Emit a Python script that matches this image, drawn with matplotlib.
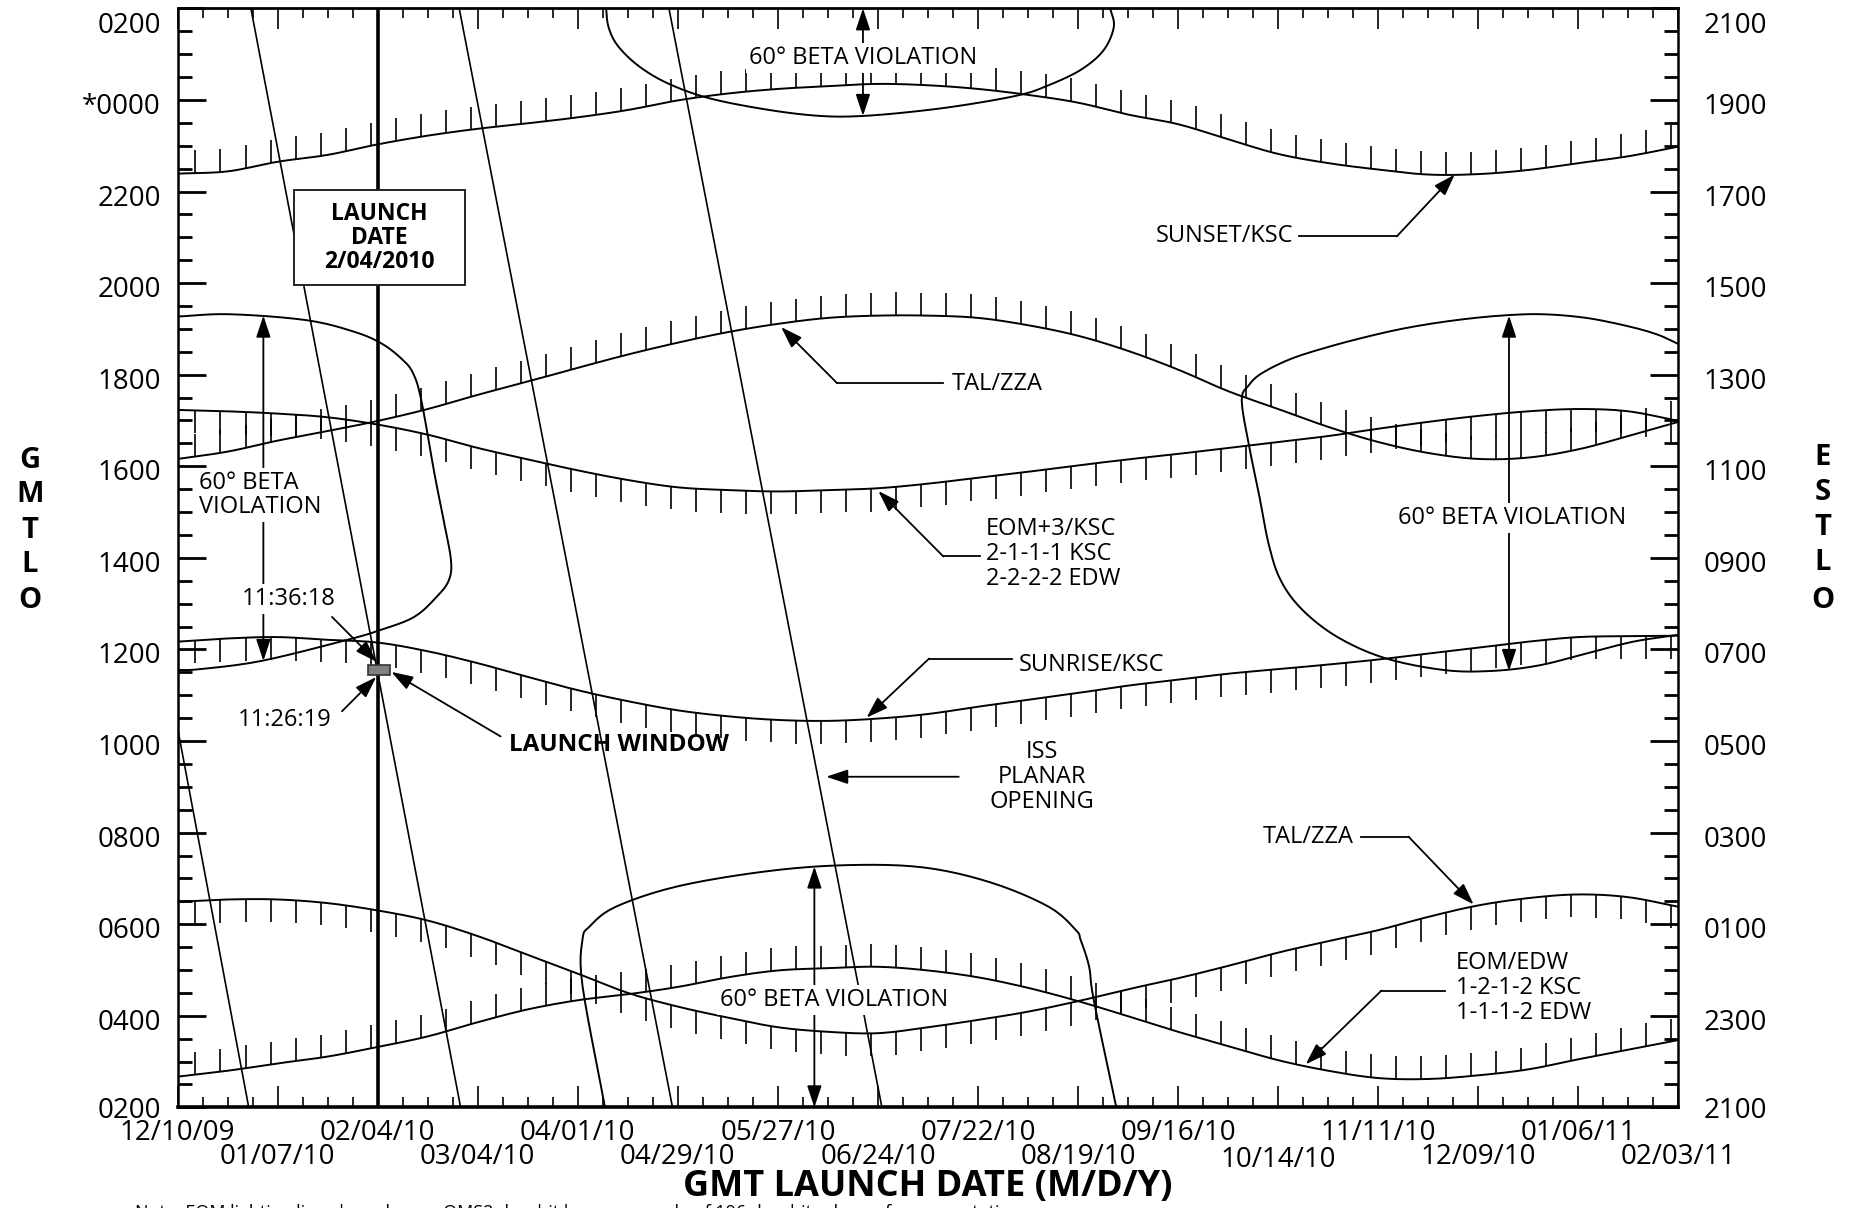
import matplotlib
matplotlib.use('Agg')
import matplotlib.pyplot as plt
from matplotlib.patches import Rectangle
from matplotlib.transforms import ScaledTranslation
import numpy as np

plt.rcParams['font.family'] = ['Open Sans', 'DejaVu Sans']

# x = days after 12/10/09, y = GMT hour (02:00 at the bottom to 02:00 next day at the top)
days = np.arange(0, 421, 14)

sunset_ksc = [22.39, 22.44, 22.65, 22.80, 23.03, 23.22, 23.37, 23.49, 23.62, 23.78, 23.99,
              24.14, 24.24, 24.30, 24.35, 24.32, 24.24, 24.11, 23.94, 23.68, 23.47, 23.14,
              22.82, 22.62, 22.48, 22.37, 22.38, 22.47, 22.62, 22.77, 22.98]
tal_zza_upper = [16.16, 16.32, 16.56, 16.77, 16.99, 17.25, 17.56, 17.85, 18.15, 18.44, 18.70,
                 18.93, 19.11, 19.24, 19.29, 19.29, 19.24, 19.08, 18.85, 18.52, 18.11, 17.64,
                 17.25, 16.86, 16.53, 16.29, 16.16, 16.19, 16.37, 16.66, 16.97]
eom3_ksc = [17.23, 17.20, 17.15, 17.07, 16.91, 16.69, 16.40, 16.15, 15.91, 15.70, 15.54,
            15.48, 15.45, 15.48, 15.52, 15.62, 15.75, 15.88, 16.02, 16.15, 16.27, 16.40,
            16.53, 16.66, 16.82, 16.97, 17.10, 17.20, 17.25, 17.20, 16.99]
sunrise_ksc = [12.17, 12.24, 12.27, 12.21, 12.15, 11.96, 11.70, 11.40, 11.11, 10.87, 10.67,
               10.54, 10.46, 10.44, 10.49, 10.59, 10.75, 10.90, 11.05, 11.21, 11.34, 11.47,
               11.57, 11.67, 11.78, 11.91, 12.04, 12.17, 12.27, 12.29, 12.30]
tal_zza_lower = [6.49, 6.54, 6.54, 6.46, 6.30, 6.08, 5.74, 5.33, 4.92, 4.50, 4.20,
                 3.96, 3.75, 3.65, 3.62, 3.75, 3.91, 4.09, 4.32, 4.58, 4.82, 5.09,
                 5.38, 5.63, 5.87, 6.16, 6.41, 6.57, 6.65, 6.59, 6.38]
eom_edw = [2.67, 2.80, 2.96, 3.11, 3.32, 3.55, 3.86, 4.14, 4.34, 4.47, 4.63,
           4.84, 4.99, 5.04, 5.07, 4.99, 4.84, 4.61, 4.32, 3.99, 3.65, 3.34,
           3.03, 2.80, 2.64, 2.62, 2.70, 2.83, 3.05, 3.26, 3.47]

# 60 deg beta violation boundaries
beta_top_day = [119.9, 120.6, 123.2, 129.2, 137.5, 149.1, 165.6, 179.9, 191.8, 207.7, 221.9,
                235.8, 243.1, 252.4, 259.0, 262.0, 261.0]
beta_top_gmt = [26.0, 25.59, 25.18, 24.73, 24.35, 24.03, 23.78, 23.65, 23.65, 23.76, 23.91,
                24.11, 24.30, 24.64, 25.07, 25.59, 26.0]
beta_left_day = [0, 14.6, 36.1, 49.7, 57.3, 62.9, 65.9, 68.2, 71.9, 74.5, 76.5, 75.9, 72.5,
                 66.2, 56.6, 47.0, 23.5, 6.3, 0]
beta_left_gmt = [19.27, 19.32, 19.19, 18.93, 18.67, 18.33, 18.03, 17.44, 15.83, 14.80, 13.95,
                 13.51, 13.15, 12.71, 12.42, 12.20, 11.75, 11.57, 11.55]
beta_right_day = [420, 414.0, 405.8, 394.2, 381.9, 370.3, 357.7, 344.5, 332.9, 321.3, 311.4,
                  303.4, 299.8, 297.8, 300.1, 302.8, 305.4, 308.7, 314.7, 324.6, 337.9,
                  354.4, 367.7, 380.9, 394.2, 407.4, 420]
beta_right_gmt = [18.67, 18.88, 19.06, 19.24, 19.32, 19.29, 19.19, 19.03, 18.83, 18.59, 18.34,
                  18.03, 17.77, 17.43, 16.35, 15.32, 14.28, 13.51, 12.87, 12.27, 11.81,
                  11.55, 11.53, 11.65, 11.91, 12.17, 12.32]
beta_bottom_day = [119.6, 113.3, 113.3, 115.3, 122.6, 140.1, 165.3, 187.5, 208.7, 227.6,
                   243.8, 251.4, 252.7, 255.1, 256.4, 262.7]
beta_bottom_gmt = [2.0, 4.66, 5.66, 5.95, 6.38, 6.83, 7.16, 7.29, 7.24, 6.91,
                   6.38, 5.87, 5.66, 5.07, 4.34, 2.0]

# ISS planar opening lines
iss_start_day = [0, 20.5, 78.8, 137.5]
iss_start_gmt = [10.28, 26.0, 26.0, 26.0]
iss_end_day = [19.9, 79.2, 138.5, 197.1]
iss_end_gmt = [2.0, 2.0, 2.0, 2.0]

launch_day = 56
window_day = [53.3, 59.3]
window_gmt = [11.45, 11.65]

date_ticks = np.arange(0, 421, 28)
date_labels = ['12/10/09', '01/07/10', '02/04/10', '03/04/10', '04/01/10', '04/29/10',
               '05/27/10', '06/24/10', '07/22/10', '08/19/10', '09/16/10', '10/14/10',
               '11/11/10', '12/09/10', '01/06/11', '02/03/11']
hour_ticks = np.arange(2, 27, 2)
gmt_labels = ['0200', '0400', '0600', '0800', '1000', '1200', '1400', '1600', '1800',
              '2000', '2200', '*0000', '0200']
est_labels = ['2100', '2300', '0100', '0300', '0500', '0700', '0900', '1100', '1300',
              '1500', '1700', '1900', '2100']


def smooth(x, y, n=10):
    # catmull-rom through the read points
    pts = np.column_stack([x, y]).astype(float)
    pts = np.vstack([2 * pts[0] - pts[1], pts, 2 * pts[-1] - pts[-2]])
    t = np.linspace(0, 1, n, endpoint=False)[:, None, None]
    p0, p1, p2, p3 = pts[:-3], pts[1:-2], pts[2:-1], pts[3:]
    seg = 0.5 * (2 * p1 + (p2 - p0) * t + (2 * p0 - 5 * p1 + 4 * p2 - p3) * t ** 2
                 + (3 * p1 - p0 - 3 * p2 + p3) * t ** 3)
    out = np.vstack([seg.transpose(1, 0, 2).reshape(-1, 2), pts[-2]])
    return out[:, 0], out[:, 1]


fig = plt.figure(figsize=(18.56, 12.08), dpi=100)
ax = fig.add_axes([0.0957, 0.0833, 0.8086, 0.9098])
ax.set_xlim(0, 420)
ax.set_ylim(2, 26)

LW = 1.4
hatch_days = np.arange(5, 420, 7)
for vals, sign in [(sunset_ksc, 1), (tal_zza_upper, 1), (eom3_ksc, -1),
                   (sunrise_ksc, -1), (tal_zza_lower, -1), (eom_edw, 1)]:
    sx, sy = smooth(days, vals)
    ax.plot(sx, sy, color='black', lw=LW)
    base = np.interp(hatch_days, sx, sy)
    ax.vlines(hatch_days, base, base + sign * 0.5, color='black', lw=1.2)

for bx, by in [(beta_top_day, beta_top_gmt), (beta_left_day, beta_left_gmt),
               (beta_right_day, beta_right_gmt), (beta_bottom_day, beta_bottom_gmt)]:
    sx, sy = smooth(bx, by, 6)
    ax.plot(sx, sy, color='black', lw=LW)

for x0, y0, x1, y1 in zip(iss_start_day, iss_start_gmt, iss_end_day, iss_end_gmt):
    ax.plot([x0, x1], [y0, y1], color='black', lw=1.2)

# launch date line and box
ax.axvline(launch_day, color='black', lw=2.6, zorder=3)
ax.add_patch(Rectangle((32.5, 19.96), 48, 2.07, facecolor='white', edgecolor='#222222',
                       lw=1.4, zorder=5))
ax.text(56.5, 20.99, 'LAUNCH\nDATE\n2/04/2010', ha='center', va='center', fontsize=16.5,
        fontweight='bold', linespacing=1.0, zorder=6)
ax.add_patch(Rectangle((window_day[0], window_gmt[0]), window_day[1] - window_day[0],
                       window_gmt[1] - window_gmt[0], facecolor='#808080',
                       edgecolor='#333333', lw=1.2, zorder=7))

AP = dict(arrowstyle='-|>,head_length=0.6,head_width=0.2', color='black', lw=1.3,
          mutation_scale=22, shrinkA=0, shrinkB=0)
AP2 = dict(AP, arrowstyle='<|-|>,head_length=0.6,head_width=0.2')
WB = dict(facecolor='white', edgecolor='none', pad=2)
FS = 17


def leader(pts, tip):
    xs, ys = zip(*pts)
    ax.plot(xs, ys, color='black', lw=1.3)
    ax.annotate('', xy=tip, xytext=pts[-1], arrowprops=AP)


# beta violation double arrows
ax.annotate('', xy=(191.8, 26.0), xytext=(191.8, 23.65), arrowprops=AP2, zorder=4)
ax.text(191.8, 24.91, '60° BETA VIOLATION', ha='center', va='center', fontsize=FS, bbox=WB, zorder=5)
ax.annotate('', xy=(24.0, 19.29), xytext=(24.0, 11.75), arrowprops=AP2, zorder=4)
ax.text(6.0, 15.37, '60° BETA\nVIOLATION', ha='left', va='center', fontsize=FS,
        linespacing=1.0, bbox=WB, zorder=5)
ax.annotate('', xy=(372.6, 19.29), xytext=(372.6, 11.53), arrowprops=AP2, zorder=4)
ax.text(373.4, 14.87, '60° BETA VIOLATION', ha='center', va='center', fontsize=FS, bbox=WB, zorder=5)
ax.annotate('', xy=(178.2, 7.26), xytext=(178.2, 2.0), arrowprops=AP2, zorder=4)
ax.text(183.8, 4.34, '60° BETA VIOLATION', ha='center', va='center', fontsize=FS, bbox=WB, zorder=5)

# curve labels
ax.text(293, 21.02, 'SUNSET/KSC', ha='center', va='center', fontsize=FS)
leader([(313.7, 21.02), (341.2, 21.02)], (357.4, 22.37))
ax.text(229.5, 17.79, 'TAL/ZZA', ha='center', va='center', fontsize=FS)
leader([(214.3, 17.82), (184.5, 17.82)], (168.9, 19.04))
ax.text(226.2, 14.08, 'EOM+3/KSC\n2-1-1-1 KSC\n2-2-2-2 EDW', ha='left', va='center',
        fontsize=FS, linespacing=1.05)
leader([(224.5, 14.03), (214.3, 14.03)], (196.1, 15.46))
ax.text(255.7, 11.67, 'SUNRISE/KSC', ha='center', va='center', fontsize=FS)
leader([(233.5, 11.80), (210.3, 11.80)], (192.8, 10.51))
ax.text(241.8, 9.22, 'ISS\nPLANAR\nOPENING', ha='center', va='center', fontsize=FS,
        linespacing=1.05)
ax.annotate('', xy=(181.5, 9.22), xytext=(218.6, 9.22), arrowprops=AP)
ax.text(316.4, 7.91, 'TAL/ZZA', ha='center', va='center', fontsize=FS)
leader([(331.2, 7.91), (344.5, 7.91)], (362.7, 6.43))
ax.text(357.7, 4.61, 'EOM/EDW\n1-2-1-2 KSC\n1-1-1-2 EDW', ha='left', va='center',
        fontsize=FS, linespacing=1.05)
leader([(354.8, 4.55), (336.9, 4.55)], (315.7, 2.94))

ax.text(123.5, 9.92, 'LAUNCH WINDOW', ha='center', va='center', fontsize=17.5,
        fontweight='bold')
ax.annotate('', xy=(59.8, 11.51), xytext=(90.4, 10.10), arrowprops=AP, zorder=8)
ax.text(31.1, 13.10, '11:36:18', ha='center', va='center', fontsize=FS, bbox=WB, zorder=5)
ax.annotate('', xy=(55.7, 11.73), xytext=(43.2, 12.71), arrowprops=AP, zorder=8)
ax.text(30.1, 10.46, '11:26:19', ha='center', va='center', fontsize=FS)
ax.annotate('', xy=(55.6, 11.40), xytext=(46.0, 10.65), arrowprops=AP, zorder=8)

# axes / ticks
for side, w in [('top', 2.0), ('bottom', 2.6), ('left', 1.8), ('right', 1.8)]:
    ax.spines[side].set_linewidth(w)
ax.set_xticks(date_ticks)
ax.set_xticks(np.arange(0, 421, 7), minor=True)
ax.tick_params(axis='x', which='both', direction='in', top=True, bottom=True,
               labelbottom=False, width=1.2)
ax.tick_params(axis='x', which='major', length=15)
ax.tick_params(axis='x', which='minor', length=7.5)
for i, (d, lab) in enumerate(zip(date_ticks, date_labels)):
    yoff = -0.011 if i % 2 == 0 else -0.032
    if lab == '10/14/10':
        yoff -= 0.003
    ax.text(d, yoff, lab, transform=ax.get_xaxis_transform(), ha='center', va='top',
            fontsize=20)

ax.set_yticks(hour_ticks, labels=gmt_labels)
ax.set_yticks(np.arange(2, 26.1, 0.5), minor=True)
ax.tick_params(axis='y', which='both', direction='in', width=2, labelsize=20, pad=12)
ax.tick_params(axis='y', which='major', length=20)
ax.tick_params(axis='y', which='minor', length=10)

ax2 = ax.twinx()
ax2.set_ylim(2, 26)
ax2.set_yticks(hour_ticks, labels=est_labels)
ax2.set_yticks(np.arange(2, 26.1, 0.5), minor=True)
ax2.tick_params(axis='y', which='both', direction='in', width=2, labelsize=20, pad=18)
ax2.tick_params(axis='y', which='major', length=20)
ax2.tick_params(axis='y', which='minor', length=10)
for s in ax2.spines.values():
    s.set_visible(False)

# labels sit a little below their ticks; the top ones just inside the frame
shift = ScaledTranslation(0, -0.035, fig.dpi_scale_trans)
for a in (ax, ax2):
    labs = a.get_yticklabels()
    for lab in labs[1:]:
        lab.set_transform(lab.get_transform() + shift)
    labs[-1].set_verticalalignment('top')

for ch, y in zip('GMTLO', [0.619, 0.591, 0.561, 0.533, 0.503]):
    fig.text(0.016, y, ch, ha='center', va='center', fontsize=21, fontweight='bold')
for ch, y in zip('ESTLO', [0.621, 0.592, 0.563, 0.534, 0.503]):
    fig.text(0.982, y, ch, ha='center', va='center', fontsize=21, fontweight='bold')

fig.text(0.5, 0.0176, 'GMT LAUNCH DATE (M/D/Y)', ha='center', va='center', fontsize=26,
         fontweight='bold')
fig.text(0.0727, 0.003, 'Note: EOM lighting lines based upon OMS2 deorbit burn; a sample '
         'of 196 deorbits shown for presentation.', ha='left', va='top', fontsize=13)

fig.savefig('out.png', dpi=100)
